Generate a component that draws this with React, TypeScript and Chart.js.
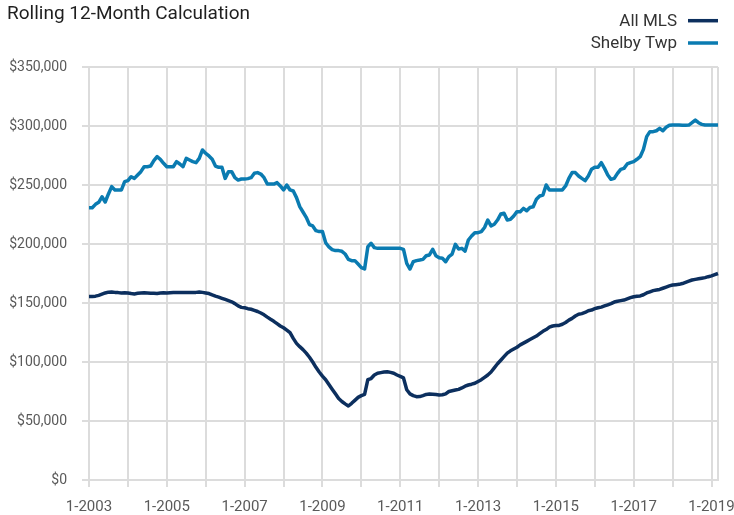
import React, { useEffect, useRef } from 'react';
import { Chart, registerables } from 'chart.js';

Chart.register(...registerables);

const chartTitle = 'Rolling 12-Month Calculation';

const months: string[] = [];
for (let y = 2003; y <= 2019; y++) {
  for (let m = 1; m <= 12; m++) months.push(`${m}-${y}`);
}
const categories = months.slice(0, 195); // 1-2003 .. 3-2019

const xTickLabels = ['1-2003', '1-2005', '1-2007', '1-2009', '1-2011', '1-2013', '1-2015', '1-2017', '1-2019'];

const allMLS = [
  155500, 155500, 155800, 156500, 157500, 158500, 159200, 159300, 159000, 158800,
  158500, 158700, 158500, 158000, 157700, 158200, 158500, 158700, 158500, 158300,
  158200, 158000, 158400, 158600, 158500, 158700, 158900, 158800, 158800, 158900,
  159000, 159000, 158900, 159000, 159300, 159000, 158500, 158000, 156800, 155800,
  155000, 154000, 153000, 152000, 151000, 149500, 147500, 146300, 146000, 145200,
  144700, 143800, 142800, 141500, 140000, 138000, 136200, 134500, 132500, 130500,
  129000, 127000, 124800, 120000, 115800, 113000, 110500, 107500, 104000, 100000,
  95500, 91500, 88000, 85000, 81000, 77000, 73000, 69000, 66500, 64500,
  62700, 65000, 67500, 70000, 71500, 72600, 85000, 86000, 89000, 90500,
  91000, 91500, 91800, 91200, 90500, 89000, 87800, 86500, 76500, 73000,
  71500, 70600, 70700, 71500, 72500, 72800, 72600, 72400, 72000, 72200,
  73000, 75000, 75600, 76200, 76800, 78000, 79500, 80500, 81200, 82000,
  83500, 85000, 87000, 89000, 91500, 95000, 98500, 101500, 104500, 107500,
  109500, 111000, 112500, 114500, 116000, 117500, 119000, 120500, 122000, 124000,
  126000, 127500, 129500, 130500, 131000, 131000, 132000, 133500, 135500, 137000,
  139000, 140500, 141000, 142000, 143500, 144000, 145200, 146000, 146500, 147500,
  148500, 149500, 150800, 151500, 152000, 152500, 153500, 154500, 155300, 155800,
  156000, 157000, 158500, 159500, 160500, 161000, 161500, 162500, 163500, 164500,
  165200, 165500, 165800, 166500, 167500, 168500, 169500, 170000, 170500, 171000,
  171500, 172300, 173000, 174000, 175000,
];

const shelbyTwp = [
  230800, 230800, 233600, 235300, 240000, 235600, 242400, 248600, 245800, 245800,
  245800, 252800, 253700, 257000, 255600, 258500, 261300, 265500, 265500, 266100,
  270600, 274000, 271800, 268400, 265500, 265500, 265500, 269800, 267800, 265500,
  272600, 271200, 269800, 268900, 272600, 279700, 276800, 274600, 271800, 266100,
  265000, 265000, 255600, 261300, 261300, 256200, 254200, 255100, 255100, 255400,
  256200, 259900, 260500, 259300, 256200, 250800, 250800, 250800, 252000, 249200,
  245800, 250000, 245800, 244900, 239300, 231600, 227100, 222600, 216400, 215300,
  211300, 210500, 210500, 201100, 197500, 195200, 194400, 194400, 193800, 191500,
  187000, 185900, 185900, 183000, 180000, 178800, 197700, 200600, 196900, 196300,
  196300, 196300, 196300, 196300, 196300, 196300, 196300, 195500, 183600, 178800,
  185000, 185900, 186400, 187000, 190000, 190700, 195500, 190000, 188400, 187900,
  185000, 189300, 191500, 199700, 195800, 196300, 194000, 203400, 206800, 209600,
  209600, 210500, 214000, 220300, 215300, 216700, 220300, 225400, 226000, 220300,
  220900, 223700, 227400, 227400, 230200, 228200, 231000, 231600, 237900, 240700,
  241500, 250000, 245800, 245800, 245800, 245800, 245800, 249200, 255600, 260500,
  260500, 257600, 255600, 253700, 257600, 263300, 265000, 265000, 268900, 264100,
  258500, 254800, 255600, 259900, 263300, 264100, 267800, 268900, 269800, 271800,
  274000, 280200, 291000, 295200, 295200, 296000, 298000, 296000, 298900, 300600,
  300800, 300800, 300800, 300600, 300600, 300800, 302800, 305000, 302800, 301400,
  300800, 300800, 300800, 300800, 300800,
];

const seriesNames = ['All MLS', 'Shelby Twp'];
const seriesColors = ['#0c2f5e', '#0a7bb1'];

const FONT = "Roboto, 'Liberation Sans', Arial, sans-serif";
const GRID = '#dcdcdc';
const TICK_TEXT = '#5a5a5a';

const headerPlugin = {
  id: 'header',
  afterDraw(chart: any) {
    const ctx = chart.ctx;
    ctx.save();
    ctx.fillStyle = '#1f1f1f';
    ctx.font = `19px ${FONT}`;
    ctx.textAlign = 'left';
    ctx.textBaseline = 'alphabetic';
    ctx.fillText(chartTitle, 7, 19);
    ctx.font = `17px ${FONT}`;
    ctx.textAlign = 'right';
    chart.data.datasets.forEach((ds: any, i: number) => {
      const base = 26 + i * 22.3;
      ctx.fillStyle = '#333333';
      ctx.fillText(ds.label, chart.width - 57, base);
      ctx.strokeStyle = ds.borderColor;
      ctx.lineWidth = 3.5;
      ctx.beginPath();
      const ly = base - 5.3;
      ctx.moveTo(chart.width - 46, ly);
      ctx.lineTo(chart.width - 16, ly);
      ctx.stroke();
    });
    ctx.restore();
  },
};

export default function App() {
  const canvasRef = useRef<HTMLCanvasElement | null>(null);

  useEffect(() => {
    document.body.style.margin = '0';
    const canvas = canvasRef.current;
    if (!canvas) return;
    const last = categories.length - 1;
    const chart = new Chart(canvas, {
      type: 'line',
      data: {
        labels: categories,
        datasets: [
          {
            label: seriesNames[0],
            data: allMLS,
            borderColor: seriesColors[0],
            backgroundColor: seriesColors[0],
            borderWidth: 3.5,
            pointRadius: 0,
            tension: 0,
            borderJoinStyle: 'round',
          },
          {
            label: seriesNames[1],
            data: shelbyTwp,
            borderColor: seriesColors[1],
            backgroundColor: seriesColors[1],
            borderWidth: 3.5,
            pointRadius: 0,
            tension: 0,
            borderJoinStyle: 'round',
          },
        ],
      },
      options: {
        animation: false,
        responsive: false,
        maintainAspectRatio: false,
        layout: { padding: { top: 67, right: 16, left: 0, bottom: 0 } },
        plugins: {
          legend: { display: false },
          title: { display: false },
          tooltip: { enabled: false },
        },
        scales: {
          x: {
            type: 'category',
            offset: false,
            grid: {
              color: GRID,
              lineWidth: 2,
              tickLength: 7,
              tickColor: (c: any) => (c.tick && c.tick.value === last ? 'rgba(0,0,0,0)' : GRID),
            },
            border: { display: true, color: GRID, width: 2 },
            ticks: {
              autoSkip: false,
              maxRotation: 0,
              minRotation: 0,
              padding: 11,
              color: TICK_TEXT,
              font: { family: FONT, size: 15 },
              callback: (value: any) => {
                const l = categories[Number(value)];
                return xTickLabels.includes(l) ? l : '';
              },
            },
            afterBuildTicks: (scale: any) => {
              scale.ticks = scale.ticks.filter((t: any) => t.value % 12 === 0 || t.value === last);
            },
            afterFit: (scale: any) => {
              scale.height = 35;
              scale.paddingLeft = 0;
              scale.paddingRight = 0;
            },
          },
          y: {
            min: 0,
            max: 350000,
            grid: { color: GRID, lineWidth: 2, tickLength: 7, tickColor: GRID },
            border: { display: true, color: GRID, width: 2 },
            ticks: {
              stepSize: 50000,
              padding: 15,
              color: TICK_TEXT,
              font: { family: FONT, size: 14 },
              callback: (v: any) => '$' + Number(v).toLocaleString('en-US'),
            },
            afterFit: (scale: any) => {
              scale.width = 89;
            },
          },
        },
      },
      plugins: [headerPlugin],
    } as any);
    return () => chart.destroy();
  }, []);

  return (
    <div style={{ width: 734, height: 515 }}>
      <canvas ref={canvasRef} width={734} height={515} style={{ display: 'block' }} />
    </div>
  );
}
